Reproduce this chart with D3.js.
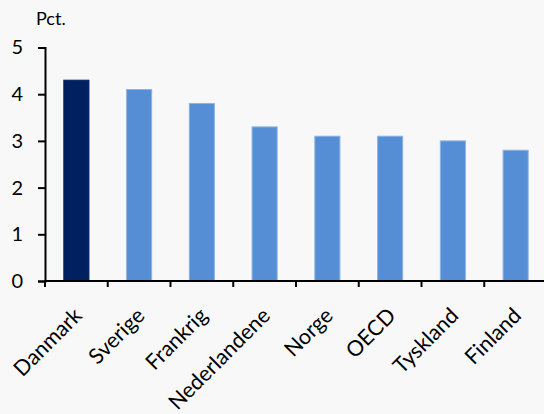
<!DOCTYPE html>
<html>
<head>
<meta charset="utf-8">
<script src="https://cdn.jsdelivr.net/npm/d3@7"></script>
<style>
  html, body { margin: 0; padding: 0; background: #f8f8f8; }
  svg { display: block; }
  text { font-family: Lato, "Open Sans", sans-serif; fill: #000; }
</style>
</head>
<body>
<svg id="chart" width="544" height="414"></svg>
<script>
// Countries and values (pct.)
const categories = ["Danmark", "Sverige", "Frankrig", "Nederlandene", "Norge", "OECD", "Tyskland", "Finland"];
const values = [4.3, 4.1, 3.8, 3.3, 3.1, 3.1, 3.0, 2.8];
const highlighted = ["Danmark"];
const yTicks = [0, 1, 2, 3, 4, 5];
const yLabel = "Pct.";

const svg = d3.select("#chart");
const plotLeft = 45, plotRight = 547, plotTop = 47.5, plotBottom = 281;

const x = d3.scaleBand().domain(categories).range([plotLeft, plotRight]).paddingInner(0.6).paddingOuter(0.3);
const xEdges = d3.scaleBand().domain(categories).range([plotLeft, plotRight]).padding(0);
const y = d3.scaleLinear().domain([0, 5]).range([plotBottom, plotTop]);

// Bars
svg.append("g").selectAll("rect")
  .data(categories.map((c, i) => ({ c, v: values[i] })))
  .join("rect")
  .attr("x", d => x(d.c))
  .attr("y", d => y(d.v))
  .attr("width", x.bandwidth())
  .attr("height", d => y(0) - y(d.v))
  .attr("fill", d => highlighted.includes(d.c) ? "#002060" : "#558ed5")
  .attr("stroke", d => highlighted.includes(d.c) ? "#002060" : "#8db4e2")
  .attr("stroke-width", 1);

// Y axis
const yAxis = svg.append("g")
  .attr("transform", `translate(${plotLeft},0)`)
  .call(d3.axisLeft(y).tickValues(yTicks).tickFormat(d3.format("d")).tickSize(7).tickPadding(15));
yAxis.select(".domain").attr("stroke", "#000").attr("stroke-width", 2);
yAxis.selectAll(".tick line").attr("stroke", "#000").attr("stroke-width", 2);
yAxis.selectAll(".tick text").style("font-size", "20px").style("font-family", "Lato, 'Open Sans', sans-serif");

// X axis: ticks on the band edges
const edges = categories.map(c => xEdges(c));
const xg = svg.append("g");
xg.append("line")
  .attr("x1", plotLeft - 1).attr("x2", 544)
  .attr("y1", plotBottom).attr("y2", plotBottom)
  .attr("stroke", "#000").attr("stroke-width", 2);
xg.selectAll("line.tk").data(edges).join("line")
  .attr("class", "tk")
  .attr("x1", d => d).attr("x2", d => d)
  .attr("y1", plotBottom).attr("y2", plotBottom + 6)
  .attr("stroke", "#000").attr("stroke-width", 2);

// Category labels, rotated; the top-right corner of each label sits under its bar
xg.selectAll("text").data(categories).join("text")
  .attr("transform", d => `translate(${x(d) + x.bandwidth() / 2 - 4},${plotBottom + 25}) rotate(-45)`)
  .attr("text-anchor", "end")
  .attr("dy", "0.72em")
  .style("font-size", "21.5px")
  .text(d => d);

// Unit label
svg.append("text")
  .attr("x", 36).attr("y", 25)
  .style("font-size", "18px")
  .text(yLabel);
</script>
</body>
</html>
